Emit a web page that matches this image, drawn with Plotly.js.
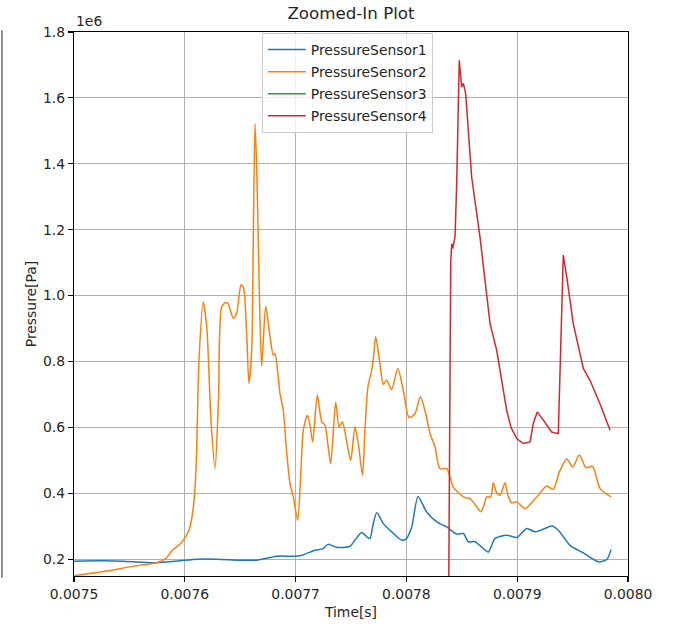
<!DOCTYPE html>
<html>
<head>
<meta charset="utf-8">
<script src="https://cdn.plot.ly/plotly-3.0.1.min.js"></script>
<style>
  html, body { margin: 0; padding: 0; background: #ffffff; }
  #chart { width: 682px; height: 626px; }
</style>
</head>
<body>
<div id="chart"></div>
<script>
// Sensor time stamps [s] and pressures [Pa], sampled along each trace.
const sensor1Time = [0.0075000, 0.0075271, 0.0075542, 0.0075749, 0.0075957, 0.0076110, 0.0076291, 0.0076498,
  0.0076649, 0.0076829, 0.0077010, 0.0077067, 0.0077175, 0.0077247, 0.0077292, 0.0077371, 0.0077491,
  0.0077536, 0.0077597, 0.0077644, 0.0077671, 0.0077698, 0.0077732, 0.0077792, 0.0077870, 0.0077958,
  0.0077996, 0.0078048, 0.0078105, 0.0078183, 0.0078274, 0.0078364, 0.0078454, 0.0078514, 0.0078559,
  0.0078619, 0.0078682, 0.0078739, 0.0078800, 0.0078905, 0.0078996, 0.0079086, 0.0079161, 0.0079236,
  0.0079311, 0.0079371, 0.0079477, 0.0079597, 0.0079732, 0.0079808, 0.0079847];
const sensor1Pressure = [194000, 195000, 192000, 189000, 195000, 200000, 200000, 197000,
  197000, 209000, 209000, 213000, 227000, 232000, 245000, 236000, 239000,
  258000, 281000, 267000, 263000, 303000, 341000, 308000, 282000, 258000,
  261000, 298000, 390000, 343000, 313000, 298000, 276000, 278000, 253000,
  253000, 236000, 222000, 263000, 273000, 266000, 293000, 283000, 291000,
  301000, 288000, 242000, 219000, 192000, 199000, 229000];

const sensor2Time = [0.0075000, 0.0075298, 0.0075542, 0.0075752, 0.0075828, 0.0075887, 0.0075963, 0.0076038,
  0.0076074, 0.0076101, 0.0076128, 0.0076167, 0.0076200, 0.0076236, 0.0076273, 0.0076304, 0.0076333,
  0.0076369, 0.0076390, 0.0076438, 0.0076468, 0.0076507, 0.0076528, 0.0076557, 0.0076579, 0.0076604,
  0.0076618, 0.0076634, 0.0076652, 0.0076674, 0.0076694, 0.0076730, 0.0076769, 0.0076799, 0.0076814,
  0.0076837, 0.0076859, 0.0076889, 0.0076918, 0.0076949, 0.0076979, 0.0077019, 0.0077044, 0.0077070,
  0.0077106, 0.0077130, 0.0077154, 0.0077196, 0.0077236, 0.0077265, 0.0077292, 0.0077317, 0.0077362,
  0.0077392, 0.0077422, 0.0077459, 0.0077497, 0.0077536, 0.0077568, 0.0077604, 0.0077626, 0.0077653,
  0.0077687, 0.0077705, 0.0077723, 0.0077757, 0.0077792, 0.0077822, 0.0077867, 0.0077922, 0.0077972,
  0.0078024, 0.0078078, 0.0078126, 0.0078174, 0.0078213, 0.0078258, 0.0078303, 0.0078364, 0.0078389,
  0.0078423, 0.0078475, 0.0078529, 0.0078574, 0.0078624, 0.0078671, 0.0078700, 0.0078725, 0.0078761,
  0.0078784, 0.0078813, 0.0078845, 0.0078890, 0.0078917, 0.0078950, 0.0078996, 0.0079070, 0.0079176,
  0.0079266, 0.0079326, 0.0079380, 0.0079447, 0.0079501, 0.0079561, 0.0079621, 0.0079681, 0.0079747,
  0.0079847];
const sensor2Pressure = [150000, 164000, 179000, 190000, 202000, 227000, 248000, 288000,
  349000, 470000, 804000, 981000, 895000, 622000, 475000, 683000, 966000,
  979000, 976000, 931000, 946000, 1032000, 1026000, 895000, 733000, 834000,
  1168000, 1522000, 1350000, 986000, 786000, 968000, 875000, 819000, 824000,
  774000, 703000, 652000, 531000, 430000, 389000, 318000, 440000, 592000,
  637000, 607000, 556000, 698000, 617000, 607000, 546000, 490000, 677000,
  602000, 617000, 561000, 500000, 602000, 546000, 455000, 592000, 723000,
  774000, 819000, 875000, 804000, 731000, 743000, 715000, 779000, 713000,
  630000, 642000, 693000, 642000, 581000, 541000, 475000, 475000, 455000,
  419000, 400000, 387000, 384000, 364000, 344000, 364000, 389000, 389000,
  432000, 403000, 394000, 432000, 394000, 371000, 374000, 354000, 389000,
  422000, 412000, 465000, 504000, 480000, 516000, 478000, 482000, 415000,
  389000];

const sensor3Time = [0.0075000, 0.0076000, 0.0077000, 0.0078000, 0.0079000, 0.0079847];
const sensor3Pressure = [0, 0, 0, 0, 0, 0];

const sensor4Time = [0.0075000, 0.0078380, 0.0078400, 0.0078409, 0.0078418, 0.0078439, 0.0078454, 0.0078466,
  0.0078477, 0.0078499, 0.0078514, 0.0078535, 0.0078589, 0.0078664, 0.0078755, 0.0078815, 0.0078905,
  0.0078944, 0.0078996, 0.0079055, 0.0079116, 0.0079145, 0.0079181, 0.0079236, 0.0079311, 0.0079371,
  0.0079393, 0.0079416, 0.0079447, 0.0079506, 0.0079597, 0.0079657, 0.0079747, 0.0079838];
const sensor4Pressure = [0, 0, 1100000, 1158000, 1143000, 1178000, 1340000, 1550000,
  1714000, 1633000, 1644000, 1613000, 1360000, 1178000, 915000, 834000, 652000,
  600000, 566000, 551000, 556000, 612000, 647000, 622000, 586000, 581000,
  830000, 1123000, 1057000, 915000, 779000, 743000, 672000, 591000];

const seriesNames = ['PressureSensor1', 'PressureSensor2', 'PressureSensor3', 'PressureSensor4'];
const seriesColors = ['#1f77b4', '#ff7f0e', '#2ca02c', '#d62728'];

const xTickVals = [0.0075, 0.0076, 0.0077, 0.0078, 0.0079, 0.0080];
const xTickText = ['0.0075', '0.0076', '0.0077', '0.0078', '0.0079', '0.0080'];
const yTickVals = [200000, 400000, 600000, 800000, 1000000, 1200000, 1400000, 1600000, 1800000];
const yTickText = ['0.2', '0.4', '0.6', '0.8', '1.0', '1.2', '1.4', '1.6', '1.8'];

const FONT = 'DejaVu Sans, sans-serif';

const xs = [sensor1Time, sensor2Time, sensor3Time, sensor4Time];
const ys = [sensor1Pressure, sensor2Pressure, sensor3Pressure, sensor4Pressure];
const shapes = ['spline', 'spline', 'linear', 'linear'];

const traces = seriesNames.map((name, i) => ({
  x: xs[i],
  y: ys[i],
  name: name,
  type: 'scatter',
  mode: 'lines',
  legendgroup: 'g' + i,
  line: { color: seriesColors[i], width: 1.5, shape: shapes[i], smoothing: 0.7 }
}));

const layout = {
  width: 682,
  height: 626,
  margin: { l: 74, r: 54, t: 32, b: 50 },
  paper_bgcolor: '#ffffff',
  plot_bgcolor: '#ffffff',
  font: { family: FONT, size: 14, color: '#262626' },
  title: {
    text: 'Zoomed-In Plot',
    font: { family: FONT, size: 16.7, color: '#262626' },
    xref: 'paper', x: 0.5, xanchor: 'center',
    yref: 'container', y: 0.979, yanchor: 'middle'
  },
  xaxis: {
    range: [0.0075, 0.0080],
    tickmode: 'array', tickvals: xTickVals, ticktext: xTickText,
    ticks: 'outside', ticklen: 5, tickwidth: 1.1, tickcolor: '#000000',
    showline: true, linecolor: '#000000', linewidth: 1.1, mirror: true,
    showgrid: true, gridcolor: '#b0b0b0', gridwidth: 1.1,
    zeroline: false,
    tickfont: { family: FONT, size: 13.9, color: '#262626' },
    title: { text: 'Time[s]', font: { family: FONT, size: 13.9, color: '#262626' }, standoff: 6 },
    automargin: false
  },
  yaxis: {
    range: [149000, 1800000],
    tickmode: 'array', tickvals: yTickVals, ticktext: yTickText,
    ticks: 'outside', ticklen: 5, tickwidth: 1.1, tickcolor: '#000000',
    showline: true, linecolor: '#000000', linewidth: 1.1, mirror: true,
    showgrid: true, gridcolor: '#b0b0b0', gridwidth: 1.1,
    zeroline: false,
    tickfont: { family: FONT, size: 13.9, color: '#262626' },
    title: { text: 'Pressure[Pa]', font: { family: FONT, size: 13.9, color: '#262626' } },
    automargin: false
  },
  legend: {
    x: 0.339, y: 0.998, xanchor: 'left', yanchor: 'top',
    bgcolor: 'rgba(255,255,255,0.8)',
    bordercolor: '#cccccc', borderwidth: 1,
    font: { family: FONT, size: 13.9, color: '#262626' },
    traceorder: 'grouped', tracegroupgap: 1,
    itemwidth: 38
  },
  annotations: [{
    text: '1e6', xref: 'paper', yref: 'paper', x: 0, y: 1,
    xanchor: 'left', yanchor: 'bottom', yshift: 1, showarrow: false,
    font: { family: FONT, size: 13.9, color: '#262626' }
  }],
  shapes: [{
    type: 'line', xref: 'paper', yref: 'paper',
    x0: -0.130, x1: -0.130, y0: -0.003, y1: 1.003,
    line: { color: '#222222', width: 1 }
  }]
};

Plotly.newPlot('chart', traces, layout, { displayModeBar: false, staticPlot: true });
</script>
</body>
</html>
